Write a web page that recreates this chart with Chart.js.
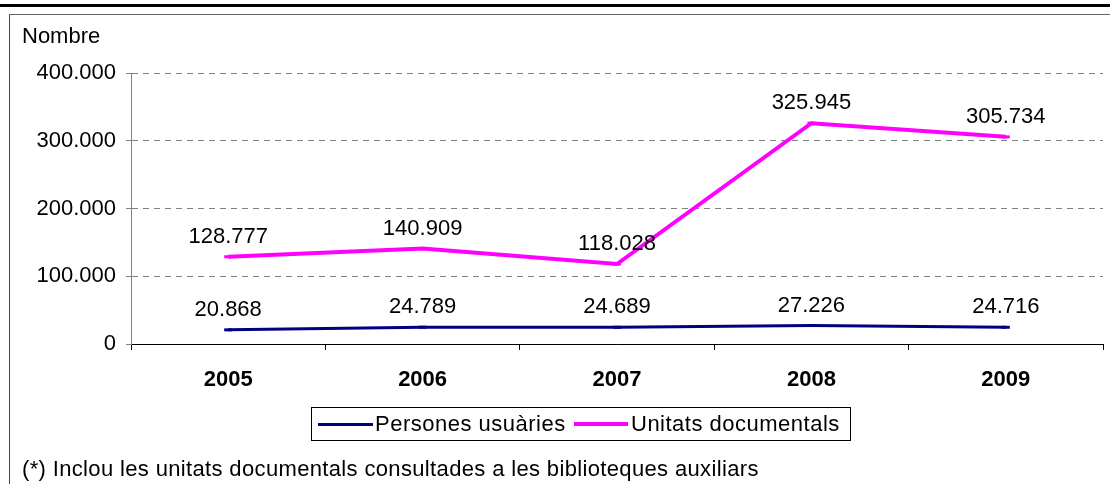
<!DOCTYPE html>
<html>
<head>
<meta charset="utf-8">
<script src="https://cdn.jsdelivr.net/npm/chart.js@4/dist/chart.umd.min.js"></script>
<style>
  html, body { margin: 0; padding: 0; background: #fff; }
  #wrap { position: relative; width: 1110px; height: 484px; overflow: hidden;
    font-family: Arial, "Liberation Sans", sans-serif; font-size: 22px; color: #000; }
  #topbar { position: absolute; left: 0; top: 4px; width: 1110px; height: 3px; background: #000; }
  #frame { position: absolute; left: 9px; top: 14px; width: 1200px; height: 600px;
    border-left: 1px solid #444; border-top: 1px solid #666; }
  canvas { position: absolute; left: 0; top: 0; }
  .txt { position: absolute; white-space: nowrap; line-height: 22px; }
  #legend { position: absolute; left: 311px; top: 407px; width: 538px; height: 32px;
    border: 1px solid #000; }
  #legend .txt { letter-spacing: 0.5px; }
  .swatch { position: absolute; top: 16px; height: 0; }
</style>
</head>
<body>
<div id="wrap">
  <div id="topbar"></div>
  <div id="frame"></div>
  <canvas id="chartLine" width="1110" height="484"></canvas>
  <div class="txt" style="left:22px; top:25px;">Nombre</div>
  <div id="legend">
    <div class="swatch" style="left:6px; width:55px; border-top:3px solid #000080; top:15px;"></div>
    <div class="txt" style="left:63px; top:5px;">Persones usuàries</div>
    <div class="swatch" style="left:262px; width:54px; border-top:4px solid #ff00ff; top:14px;"></div>
    <div class="txt" style="left:319px; top:5px;">Unitats documentals</div>
  </div>
  <div class="txt" style="left:22px; top:458px; letter-spacing:0.35px;">(*) Inclou les unitats documentals consultades a les biblioteques auxiliars</div>
</div>
<script>
const years = ["2005", "2006", "2007", "2008", "2009"];
const persones = [20868, 24789, 24689, 27226, 24716];
const unitats = [128777, 140909, 118028, 325945, 305734];
const yTicks = [0, 100000, 200000, 300000, 400000];

// 128777 -> "128.777"
function formatNum(n) {
  return n.toString().replace(/\B(?=(\d{3})+(?!\d))/g, ".");
}

const pointLabels = {
  id: "pointLabels",
  afterDatasetsDraw(chart) {
    const ctx = chart.ctx;
    ctx.save();
    ctx.font = '22px Arial, "Liberation Sans", sans-serif';
    ctx.fillStyle = "#000";
    ctx.textAlign = "center";
    ctx.textBaseline = "middle";
    chart.data.datasets.forEach((ds, i) => {
      chart.getDatasetMeta(i).data.forEach((pt, j) => {
        ctx.fillText(formatNum(ds.data[j]), pt.x, pt.y - 20);
      });
    });
    ctx.restore();
  },
};

Chart.defaults.font.family = 'Arial, "Liberation Sans", sans-serif';
Chart.defaults.font.size = 22;
Chart.defaults.color = "#000";

const data = {
  labels: years,
  datasets: [
    {
      label: "Persones usuàries",
      data: persones,
      borderColor: "#000080",
      backgroundColor: "#000080",
      borderWidth: 3,
      pointStyle: "line",
      pointRadius: 4,
      pointBorderWidth: 3,
      tension: 0,
    },
    {
      label: "Unitats documentals",
      data: unitats,
      borderColor: "#ff00ff",
      backgroundColor: "#ff00ff",
      borderWidth: 4,
      pointStyle: "line",
      pointRadius: 4,
      pointBorderWidth: 3,
      tension: 0,
    },
  ],
};

const config = {
  type: "line",
  data,
  options: {
    responsive: false,
    animation: false,
    layout: { padding: { top: 73, right: 4, left: 0, bottom: 0 } },
    plugins: { legend: { display: false }, tooltip: { enabled: false } },
    scales: {
      x: {
        offset: true,
        afterFit: (s) => { s.height = 140; },
        grid: { offset: true, drawOnChartArea: false, tickLength: 6, color: "#000" },
        border: { color: "#000", width: 1 },
        ticks: { font: { weight: "bold" }, padding: 17, maxRotation: 0 },
      },
      y: {
        min: 0,
        max: 400000,
        afterFit: (s) => { s.width = 131; },
        afterBuildTicks: (s) => { s.ticks = yTicks.map((v) => ({ value: v })); },
        grid: { color: "#808080", tickLength: 5, tickColor: "#808080" },
        border: { color: "#808080", dash: [6, 5] },
        ticks: { padding: 10, callback: (v) => formatNum(v) },
      },
    },
  },
  plugins: [pointLabels],
};

const chartLine = new Chart(document.getElementById("chartLine"), config);
</script>
</body>
</html>
